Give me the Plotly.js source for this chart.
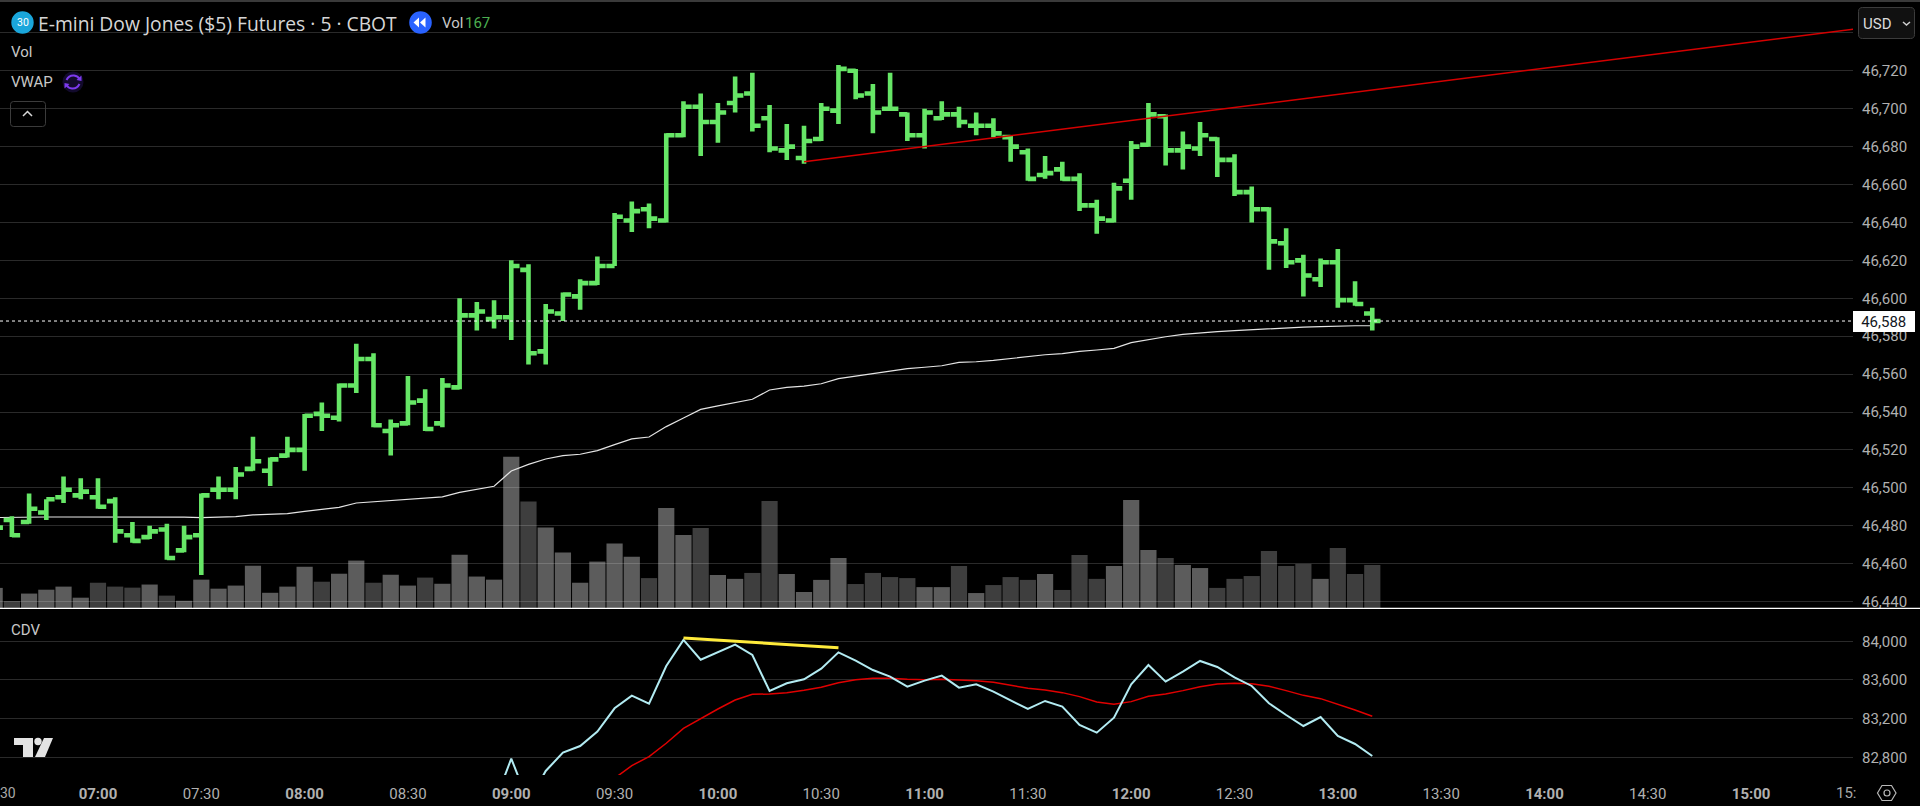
<!DOCTYPE html>
<html><head><meta charset="utf-8">
<script src="https://cdn.plot.ly/plotly-3.0.1.min.js"></script>
<style>html,body{margin:0;padding:0;background:#000;overflow:hidden}#chart{width:1920px;height:806px}</style>
</head><body><div id="chart"></div>
<script>
const day = '2025-10-20 ';
const times = ['06:30','06:35','06:40','06:45','06:50','06:55','07:00','07:05','07:10','07:15','07:20','07:25','07:30','07:35','07:40','07:45','07:50','07:55','08:00','08:05','08:10','08:15','08:20','08:25','08:30','08:35','08:40','08:45','08:50','08:55','09:00','09:05','09:10','09:15','09:20','09:25','09:30','09:35','09:40','09:45','09:50','09:55','10:00','10:05','10:10','10:15','10:20','10:25','10:30','10:35','10:40','10:45','10:50','10:55','11:00','11:05','11:10','11:15','11:20','11:25','11:30','11:35','11:40','11:45','11:50','11:55','12:00','12:05','12:10','12:15','12:20','12:25','12:30','12:35','12:40','12:45','12:50','12:55','13:00','13:05','13:10'];
const opens = [46484,46483,46482,46487,46495,46496,46495,46493,46475,46474,46478,46467,46475,46499,46499,46510,46509,46517,46520,46539,46537,46554,46568,46530,46534,46546,46534,46553,46591,46589,46590,46615,46572,46592,46601,46608,46617,46641,46647,46641,46686,46701,46693,46703,46708,46695,46678,46674,46684,46699,46720,46708,46700,46697,46686,46695,46697,46691,46691,46685,46677,46665,46668,46663,46649,46641,46662,46681,46696,46678,46679,46684,46673,46656,46647,46629,46620,46610,46619,46599,46592];
const highs = [46486,46485,46497,46494,46506,46505,46505,46495,46482,46480,46481,46480,46497,46506,46511,46527,46516,46527,46539,46545,46555,46576,46571,46536,46559,46552,46558,46600,46598,46599,46620,46618,46597,46603,46610,46622,46645,46651,46650,46687,46704,46708,46703,46717,46719,46702,46692,46691,46703,46723,46721,46713,46719,46698,46700,46704,46701,46698,46695,46686,46679,46675,46672,46666,46652,46661,46683,46703,46697,46688,46693,46685,46676,46659,46648,46637,46623,46621,46626,46609,46595];
const lows = [46476,46474,46481,46483,46492,46494,46489,46471,46471,46473,46462,46466,46454,46494,46494,46509,46501,46516,46509,46530,46535,46550,46532,46517,46533,46530,46532,46552,46583,46584,46578,46565,46565,46588,46594,46607,46617,46635,46637,46640,46685,46675,46682,46698,46688,46677,46673,46671,46683,46692,46705,46687,46699,46683,46679,46694,46690,46686,46685,46672,46662,46663,46662,46646,46634,46640,46652,46680,46670,46668,46675,46664,46654,46640,46615,46616,46601,46606,46595,46596,46583];
const closes = [46479,46475,46489,46494,46499,46498,46490,46477,46472,46477,46463,46474,46496,46499,46507,46514,46515,46520,46538,46538,46554,46568,46533,46533,46545,46531,46554,46591,46593,46590,46617,46571,46593,46602,46608,46617,46643,46646,46642,46686,46701,46693,46698,46707,46691,46679,46680,46683,46700,46721,46707,46698,46700,46686,46698,46697,46693,46691,46687,46680,46663,46666,46663,46649,46642,46658,46680,46697,46678,46680,46686,46673,46656,46647,46630,46619,46612,46619,46599,46597,46588];
const volumes = [78,27,56,71,83,40,98,83,79,91,48,28,110,75,87,164,59,83,160,102,133,184,98,129,87,118,94,207,122,110,587,413,312,215,98,180,250,199,116,388,283,310,128,113,136,415,132,62,109,194,93,136,120,116,81,81,163,58,89,120,109,132,70,206,113,163,419,225,194,167,155,78,113,124,221,163,171,113,233,132,167];
const volumeUp = [1,0,1,1,1,1,0,0,0,1,0,1,1,1,1,1,1,1,1,0,1,1,0,1,1,0,1,1,1,1,1,0,1,1,1,1,1,1,0,1,1,0,1,1,0,0,1,1,1,1,0,0,0,0,1,1,0,1,0,0,0,1,0,0,0,1,1,1,0,1,1,0,0,0,0,0,0,1,0,0,0];
const vwap = [46484.3,46484.5,46484.5,46484.6,46484.6,46484.6,46484.8,46484.8,46484.6,46484.6,46484.5,46484.5,46484.3,46484.5,46484.8,46485.7,46486,46486.4,46487.6,46488.5,46489.7,46492,46492.7,46493.3,46494,46494.5,46495.2,46497.6,46499.4,46500.8,46508.9,46512.4,46515.2,46517,46517.7,46519.6,46522.8,46525.8,46526.8,46532.3,46536.8,46541.4,46543.2,46544.9,46546.7,46551.6,46553,46553.7,46554.9,46557.6,46558.8,46560.2,46561.6,46562.9,46563.6,46564.4,46566.2,46566.5,46567.2,46568.3,46569.2,46570.2,46570.8,46572,46572.7,46573.6,46576.6,46578.3,46579.7,46581,46581.8,46582.4,46582.9,46583.4,46584.1,46584.7,46584.8,46585,46585.4,46585.5,46585.5];
const cdvStart = '08:55';
const cdv = [82317,82786,82335,82659,82848,82917,83066,83307,83438,83355,83745,84014,83810,83890,83966,83859,83486,83566,83607,83717,83886,83800,83703,83635,83531,83593,83645,83521,83555,83479,83393,83300,83383,83324,83135,83055,83210,83555,83755,83583,83686,83797,83735,83628,83538,83359,83238,83124,83217,83021,82938,82814];
const cdvMaStart = '09:30';
const cdvMa = [82583,82714,82807,82945,83100,83204,83300,83393,83452,83455,83469,83493,83524,83572,83603,83617,83617,83607,83603,83607,83600,83593,83576,83548,83514,83497,83469,83428,83372,83348,83376,83431,83455,83490,83531,83559,83566,83562,83535,83490,83441,83407,83352,83290,83224];
const trendTimes = ['10:25','15:30'];
const trendPrices = [46672,46742];
const divergenceTimes = ['09:50','10:35'];
const divergenceValues = [84034,83934];
const lastPrice = 46588;
const priceTicks = [46440,46460,46480,46500,46520,46540,46560,46580,46600,46620,46640,46660,46680,46700,46720,46740];
const priceLabels = ['46,440','46,460','46,480','46,500','46,520','46,540','46,560','46,580','46,600','46,620','46,640','46,660','46,680','46,700','46,720',''];
const cdvTicks = [82800,83200,83600,84000];
const cdvLabels = ['82,800','83,200','83,600','84,000'];
const timeTicks = ['07:00','07:30','08:00','08:30','09:00','09:30','10:00','10:30','11:00','11:30','12:00','12:30','13:00','13:30','14:00','14:30','15:00'];
const timeLabels = ['<b>07:00</b>','07:30','<b>08:00</b>','08:30','<b>09:00</b>','09:30','<b>10:00</b>','10:30','<b>11:00</b>','11:30','<b>12:00</b>','12:30','<b>13:00</b>','13:30','<b>14:00</b>','14:30','<b>15:00</b>'];

const W = 1853, TOP = 2, H = 773;
const FONT = 'Roboto, sans-serif';
const fx = x => x / W, fy = y => 1 - (y - TOP) / H;
const toX = a => a.map(t => day + t);
const path = cmds => cmds.map(c => {
  const out = [c[0]];
  for (let i = 1; i < c.length; i += 2) out.push(fx(c[i]).toFixed(5) + ',' + fy(c[i + 1]).toFixed(5));
  return out[0] + (out.length > 1 ? out.slice(1).join(' ') : '');
}).join(' ');
const X = toX(times);
const priceRange = [46436.6, 46756.3];

const traces = [
  {type:'bar', x:X, y:volumes, xaxis:'x', yaxis:'y', hoverinfo:'skip',
   marker:{color:volumeUp.map(u => u ? 'rgba(255,255,255,0.36)' : 'rgba(255,255,255,0.245)'), line:{width:0}}},
  {type:'scatter', mode:'lines', x:X, y:vwap, xaxis:'x', yaxis:'y2', hoverinfo:'skip',
   line:{color:'#e4e4e4', width:1.2}},
  {type:'ohlc', x:X, open:opens, high:highs, low:lows, close:closes, xaxis:'x', yaxis:'y3', hoverinfo:'skip', tickwidth:0.48,
   increasing:{line:{color:'#66E666', width:4.6}}, decreasing:{line:{color:'#66E666', width:4.6}}},
  {type:'scatter', mode:'lines', x:toX(trendTimes), y:trendPrices, xaxis:'x', yaxis:'y3', hoverinfo:'skip',
   line:{color:'#D50000', width:1.5}},
  {type:'scatter', mode:'lines', x:toX(times.slice(times.indexOf(cdvMaStart))), y:cdvMa, xaxis:'x', yaxis:'y4', hoverinfo:'skip',
   line:{color:'#E00000', width:1.5}},
  {type:'scatter', mode:'lines', x:toX(times.slice(times.indexOf(cdvStart))), y:cdv, xaxis:'x', yaxis:'y4', hoverinfo:'skip',
   line:{color:'#B2EBF2', width:2}},
  {type:'scatter', mode:'lines', x:toX(divergenceTimes), y:divergenceValues, xaxis:'x', yaxis:'y4', hoverinfo:'skip',
   line:{color:'#FFEB3B', width:3}}
];

const note = (text, x, y, size, color, anchor, extra) => Object.assign({
  text, x:fx(x), y:fy(y), xref:'paper', yref:'paper', showarrow:false, xanchor:anchor||'left', yanchor:'middle',
  borderpad:0, borderwidth:0, font:{family:FONT, size, color}
}, extra||{});

const annotations = [
  note('E-mini Dow Jones ($5) Futures · 5 · CBOT', 38, 23, 19.3, '#d6d6d6', 'left', {font:{family:'"Open Sans", sans-serif', size:19.3, color:'#d6d6d6'}}),
  note('30', 22.5, 22.5, 10.5, '#ffffff', 'center'),
  note('Vol', 442, 23, 15, '#c8c8c8'),
  note('167', 465, 23, 15, '#4CAF50'),
  note('Vol', 11, 52, 15, '#c8c8c8'),
  note('VWAP', 11, 82, 15, '#c8c8c8'),
  note('CDV', 11, 630, 15, '#c8c8c8'),
  note('USD', 1863, 24, 15, '#dcdcdc'),
  note('30', 0, 793, 14, '#a8a8a8', 'left'),
  note('15:', 1836, 793, 15, '#a8a8a8'),
  note('46,588', 1853.5, 321.3, 15, '#131722', 'left', {bgcolor:'#ffffff', width:61.5, height:21, align:'center', valign:'middle'})
];

const line = (color, width) => ({color, width});
const shape = (type, extra) => Object.assign({type, xref:'paper', yref:'paper', layer:'above'}, extra);
const circle = (cx, cy, r, fill) => shape('circle', {x0:fx(cx-r), x1:fx(cx+r), y0:fy(cy+r), y1:fy(cy-r), fillcolor:fill, line:{width:0}});
const fillPath = (cmds, fill) => shape('path', {path:path(cmds), fillcolor:fill, line:{width:0}});
const strokePath = (cmds, color, w) => shape('path', {path:path(cmds), line:line(color, w)});
const box = (x0,y0,x1,y1,r) => [['M',x0+r,y0],['L',x1-r,y0],['Q',x1,y0,x1,y0+r],['L',x1,y1-r],['Q',x1,y1,x1-r,y1],['L',x0+r,y1],['Q',x0,y1,x0,y1-r],['L',x0,y0+r],['Q',x0,y0,x0+r,y0],['Z']];

const shapes = [
  shape('rect', {x0:0, x1:fx(1920), y0:fy(2), y1:fy(0), fillcolor:'#3a3a3a', line:{width:0}}),
  shape('rect', {x0:0, x1:fx(1920), y0:fy(609), y1:fy(607.7), fillcolor:'#ffffff', line:{width:0}}),
  {type:'line', xref:'paper', yref:'y3', x0:0, x1:1, y0:lastPrice, y1:lastPrice, layer:'above', line:{color:'#ffffff', width:1, dash:'dot'}},
  circle(22.5, 22.5, 11.2, '#1AA6DB'),
  circle(420.5, 22.5, 11.3, '#2962FF'),
  fillPath([['M',419,17.5],['L',419,27.5],['L',413.5,22.5],['Z']], '#ffffff'),
  fillPath([['M',425.5,17.5],['L',425.5,27.5],['L',420,22.5],['Z']], '#ffffff'),
  circle(73, 82, 10.5, '#120a2c'),
  strokePath([['M',66.5,80],['Q',69,75,74,75.5],['Q',78,76,79.5,79]], '#7C3AED', 2),
  strokePath([['M',79.5,84],['Q',77,89,72,88.5],['Q',68,88,66.5,85]], '#7C3AED', 2),
  fillPath([['M',81.5,75.5],['L',81.5,81],['L',76.5,80],['Z']], '#7C3AED'),
  fillPath([['M',64.5,88.5],['L',64.5,83],['L',69.5,84],['Z']], '#7C3AED'),
  strokePath(box(10.5,101.5,45.5,126.5,3), '#3c3c3c', 1),
  strokePath([['M',23,116],['L',27.5,111.5],['L',32,116]], '#d8d8d8', 1.5),
  fillPath(box(1858.5,7.5,1914.5,38.5,4), '#111111'),
  strokePath(box(1858.5,7.5,1914.5,38.5,4), '#3c3c3c', 1),
  strokePath([['M',1903,22],['L',1906.5,25],['L',1910,22]], '#cfcfcf', 1.5),
  fillPath([['M',14,738],['L',33,738],['L',33,757],['L',23,757],['L',23,745],['L',14,745],['Z']], '#e3e3e3'),
  circle(38, 741.5, 3.7, '#e3e3e3'),
  fillPath([['M',44,738],['L',53,738],['L',45,757],['L',35,757],['Z']], '#e3e3e3'),
  strokePath([['M',1877.5,793],['L',1882,785.5],['L',1891.5,785.5],['L',1896,793],['L',1891.5,800.5],['L',1882,800.5],['Z']], '#b8b8b8', 1.2),
  shape('circle', {x0:fx(1884), x1:fx(1890), y0:fy(796), y1:fy(790), line:line('#b8b8b8',1.2)})
];

const tickFont = {family:FONT, size:15, color:'#b0b0b0'};
const layout = {
  width:1920, height:806, paper_bgcolor:'#000', plot_bgcolor:'#000',
  margin:{l:0, r:1920-W, t:TOP, b:806-TOP-H, pad:0},
  showlegend:false, bargap:0.06, hovermode:false, dragmode:false,
  xaxis:{type:'date', anchor:'y4', range:[day+'06:31:33', day+'15:29:35'], showgrid:false, zeroline:false, showline:false,
    ticks:'', tickmode:'array', tickvals:toX(timeTicks), ticktext:timeLabels, tickfont:tickFont, ticklabelstandoff:8, rangeslider:{visible:false}, fixedrange:true},
  yaxis:{domain:[0.21604,1], range:[0,2351], visible:false, fixedrange:true},
  yaxis2:{overlaying:'y', range:priceRange, visible:false, fixedrange:true},
  yaxis3:{overlaying:'y', side:'right', anchor:'x', range:priceRange, tickmode:'array', tickvals:priceTicks, ticktext:priceLabels,
    tickfont:tickFont, ticks:'', showgrid:true, gridcolor:'#2a2a2a', gridwidth:1, zeroline:false, showline:false, ticklabelstandoff:8, fixedrange:true},
  yaxis4:{domain:[0,0.21345], anchor:'x', side:'right', range:[82617,84324], tickmode:'array', tickvals:cdvTicks, ticktext:cdvLabels,
    tickfont:tickFont, ticks:'', showgrid:true, gridcolor:'#2a2a2a', gridwidth:1, zeroline:false, showline:false, ticklabelstandoff:8, fixedrange:true},
  annotations, shapes
};
Plotly.newPlot('chart', traces, layout, {displayModeBar:false, responsive:false, staticPlot:true});
</script>
</body></html>
